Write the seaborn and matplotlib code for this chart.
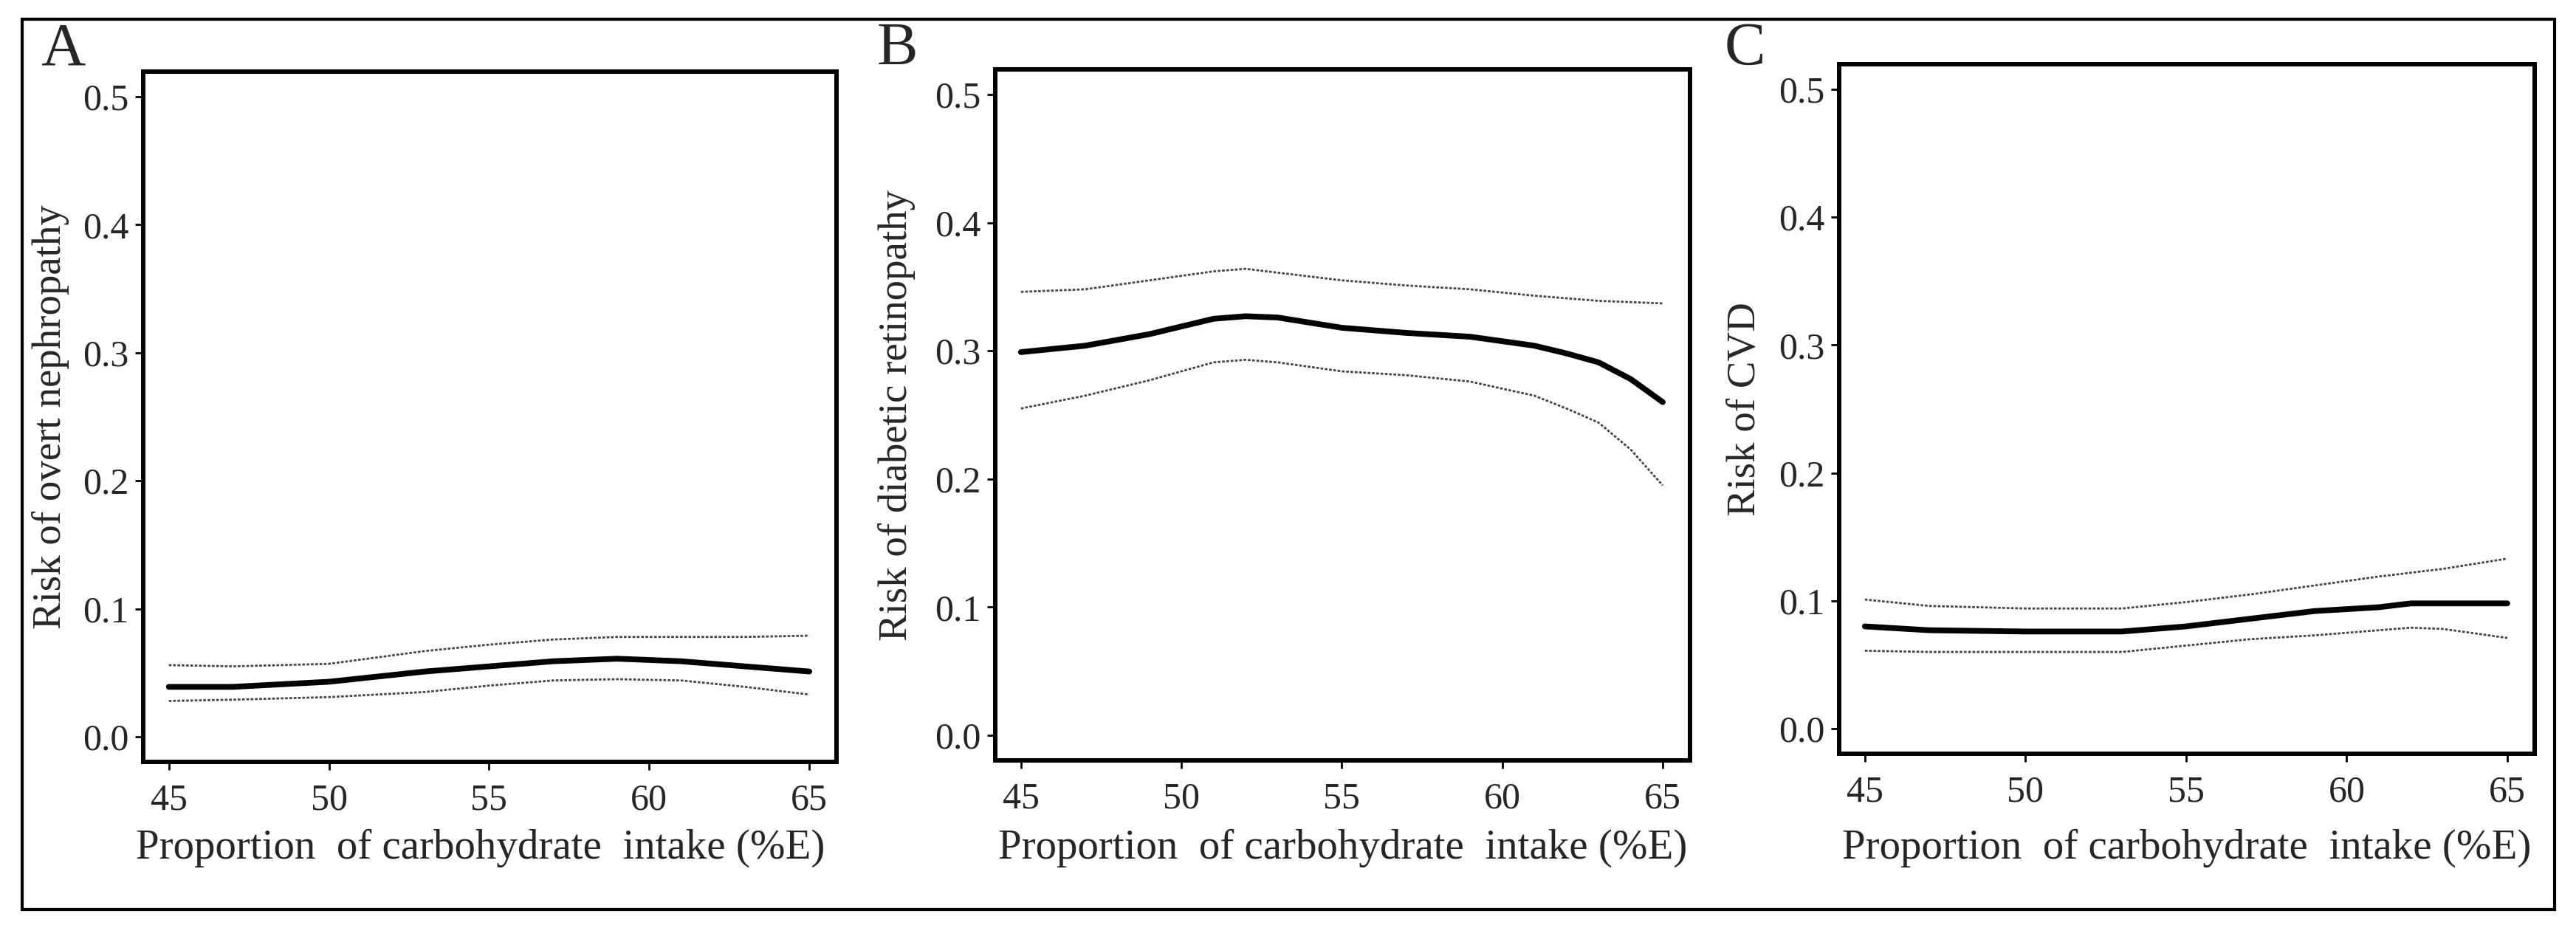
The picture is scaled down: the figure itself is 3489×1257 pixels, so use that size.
import numpy as np
import pandas as pd
import matplotlib
matplotlib.use("Agg")
import matplotlib.pyplot as plt
from matplotlib.patches import Rectangle
import seaborn as sns

# carbohydrate intake (%E) where the curves were read
carb_a = [45, 47, 50, 53, 55, 57, 59, 61, 63, 65]
risk_a = [0.039, 0.039, 0.043, 0.051, 0.055, 0.059, 0.061, 0.059, 0.055, 0.051]
upper_a = [0.056, 0.055, 0.057, 0.067, 0.072, 0.076, 0.078, 0.078, 0.078, 0.079]
lower_a = [0.028, 0.029, 0.031, 0.035, 0.040, 0.044, 0.045, 0.044, 0.039, 0.033]

carb_b = [45, 47, 49, 51, 52, 53, 55, 57, 59, 61, 62, 63, 64, 65]
risk_b = [0.299, 0.304, 0.313, 0.325, 0.327, 0.326, 0.318, 0.314, 0.311, 0.304, 0.298, 0.291, 0.278, 0.260]
upper_b = [0.346, 0.348, 0.355, 0.362, 0.364, 0.361, 0.355, 0.351, 0.348, 0.343, 0.341, 0.339, 0.338, 0.337]
lower_b = [0.255, 0.265, 0.277, 0.291, 0.293, 0.291, 0.284, 0.281, 0.276, 0.265, 0.255, 0.244, 0.223, 0.195]

carb_c = [45, 47, 50, 53, 55, 57, 59, 61, 62, 63, 65]
risk_c = [0.080, 0.077, 0.076, 0.076, 0.080, 0.086, 0.092, 0.095, 0.098, 0.098, 0.098]
upper_c = [0.101, 0.096, 0.094, 0.094, 0.099, 0.105, 0.112, 0.119, 0.122, 0.125, 0.133]
lower_c = [0.061, 0.060, 0.060, 0.060, 0.065, 0.070, 0.073, 0.077, 0.079, 0.078, 0.071]

letters = ["A", "B", "C"]
ylabels = ["Risk of overt nephropathy", "Risk of diabetic retinopathy", "Risk of CVD"]
xlabel = "Proportion  of carbohydrate  intake (%E)"
xticks = [45, 50, 55, 60, 65]
yticks = [0.0, 0.1, 0.2, 0.3, 0.4, 0.5]

sns.set_theme(style="ticks")
plt.rcParams["font.family"] = ["Liberation Serif", "DejaVu Serif"]

W, H = 3489, 1257
fig = plt.figure(figsize=(W / 100, H / 100), dpi=100)
fig.patch.set_facecolor("white")

# outer frame
fig.patches.append(Rectangle((30 / W, 1 - 1232 / H), (3460 - 30) / W, (1232 - 26) / H,
                             transform=fig.transFigure, fill=False, edgecolor="black",
                             linewidth=3.0, zorder=0))

# axes boxes in pixels: left, right, top, bottom
boxes = [(194, 1133, 97, 1032), (1348, 2289, 94, 1030), (2491, 3433, 87, 1021)]
letter_x = [55, 1188, 2336]
ylabel_x = [69, 1215, 2364]
xlabel_pos = [0.486, 0.5, 0.5]
series = [(carb_a, risk_a, upper_a, lower_a),
          (carb_b, risk_b, upper_b, lower_b),
          (carb_c, risk_c, upper_c, lower_c)]

for i, (l, r, t, b) in enumerate(boxes):
    ax = fig.add_axes([l / W, 1 - b / H, (r - l) / W, (b - t) / H])
    x, y, up, lo = series[i]
    df = pd.DataFrame({"carb": x, "risk": y, "upper": up, "lower": lo})
    for col in ["upper", "lower"]:
        sns.lineplot(data=df, x="carb", y=col, ax=ax, color="#444444",
                     linewidth=2.0, linestyle=(0, (1.3, 0.8)))
    sns.lineplot(data=df, x="carb", y="risk", ax=ax, color="black", linewidth=5.6)
    ax.set_xlim(44.2, 65.85)
    ax.set_ylim(-0.0196, 0.5196)
    ax.set_xticks(xticks)
    ax.set_yticks(yticks)
    ax.set_yticklabels([f"{v:.1f}" for v in yticks])
    ax.tick_params(axis="both", direction="out", length=8, width=2.0,
                   labelsize=36, color="black")
    ax.tick_params(axis="x", pad=13)
    ax.tick_params(axis="y", pad=6)
    for s in ax.spines.values():
        s.set_visible(True)
        s.set_linewidth(4.3)
        s.set_color("black")
    ax.set_xlabel(xlabel, fontsize=41)
    ax.set_ylabel(ylabels[i], fontsize=39.5)
    # place axis labels at the pixel positions seen in the reference
    ax.xaxis.set_label_coords(xlabel_pos[i], (b - 1163) / (b - t), transform=ax.transAxes)
    ax.xaxis.label.set_va("baseline")
    ax.yaxis.set_label_coords((ylabel_x[i] - l) / (r - l), 0.5)
    ax.yaxis.label.set_va("center")
    fig.text(letter_x[i] / W, 1 - 87 / H, letters[i], fontsize=60,
             ha="left", va="baseline")

fig.savefig("out.png", dpi=100, facecolor="white")
